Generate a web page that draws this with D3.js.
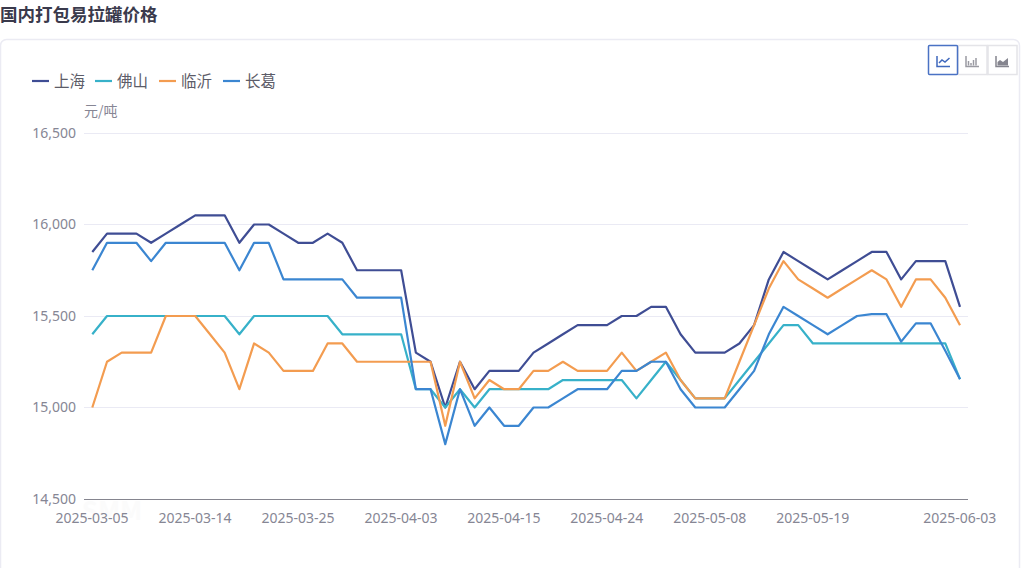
<!DOCTYPE html>
<html><head><meta charset="utf-8">
<script src="https://cdn.jsdelivr.net/npm/d3@7/dist/d3.min.js"></script>
<style>
html,body{margin:0;padding:0;background:#fff;width:1024px;height:568px;overflow:hidden}
text{font-family:"Noto Sans CJK SC","Noto Sans",sans-serif}
</style></head><body><svg id="c" width="1024" height="568"></svg>
<script>
const title = "国内打包易拉罐价格";
const unit = "元/吨";
const dates = ["2025-03-05","2025-03-06","2025-03-07","2025-03-10","2025-03-11","2025-03-12","2025-03-13","2025-03-14","2025-03-17","2025-03-18","2025-03-19","2025-03-20","2025-03-21","2025-03-24","2025-03-25","2025-03-26","2025-03-27","2025-03-28","2025-03-31","2025-04-01","2025-04-02","2025-04-03","2025-04-07","2025-04-08","2025-04-09","2025-04-10","2025-04-11","2025-04-14","2025-04-15","2025-04-16","2025-04-17","2025-04-18","2025-04-21","2025-04-22","2025-04-23","2025-04-24","2025-04-25","2025-04-28","2025-04-29","2025-04-30","2025-05-06","2025-05-07","2025-05-08","2025-05-09","2025-05-12","2025-05-13","2025-05-14","2025-05-15","2025-05-16","2025-05-19","2025-05-20","2025-05-21","2025-05-22","2025-05-23","2025-05-26","2025-05-27","2025-05-28","2025-05-29","2025-05-30","2025-06-03"];
const xTickLabels = ["2025-03-05","2025-03-14","2025-03-25","2025-04-03","2025-04-15","2025-04-24","2025-05-08","2025-05-19","2025-06-03"];
const yTicks = [14500,15000,15500,16000,16500];
const shanghai = [15850,15950,15950,15950,15900,15950,16000,16050,16050,16050,15900,16000,16000,15950,15900,15900,15950,15900,15750,15750,15750,15750,15300,15250,15000,15250,15100,15200,15200,15200,15300,15350,15400,15450,15450,15450,15500,15500,15550,15550,15400,15300,15300,15300,15350,15450,15700,15850,15800,15750,15700,15750,15800,15850,15850,15700,15800,15800,15800,15550];
const foshan = [15400,15500,15500,15500,15500,15500,15500,15500,15500,15500,15400,15500,15500,15500,15500,15500,15500,15400,15400,15400,15400,15400,15100,15100,15000,15100,15000,15100,15100,15100,15100,15100,15150,15150,15150,15150,15150,15050,15150,15250,15150,15050,15050,15050,15150,15250,15350,15450,15450,15350,15350,15350,15350,15350,15350,15350,15350,15350,15350,15155];
const linyi = [15000,15250,15300,15300,15300,15500,15500,15500,15400,15300,15100,15350,15300,15200,15200,15200,15350,15350,15250,15250,15250,15250,15250,15250,14900,15250,15050,15150,15100,15100,15200,15200,15250,15200,15200,15200,15300,15200,15250,15300,15150,15050,15050,15050,15250,15450,15650,15800,15700,15650,15600,15650,15700,15750,15700,15550,15700,15700,15600,15450];
const changge = [15750,15900,15900,15900,15800,15900,15900,15900,15900,15900,15750,15900,15900,15700,15700,15700,15700,15700,15600,15600,15600,15600,15100,15100,14800,15100,14900,15000,14900,14900,15000,15000,15050,15100,15100,15100,15200,15200,15250,15250,15100,15000,15000,15000,15100,15200,15400,15550,15500,15450,15400,15450,15500,15510,15510,15360,15460,15460,15310,15155];
const seriesNames = ["上海","佛山","临沂","长葛"];
const seriesValues = [shanghai,foshan,linyi,changge];
const seriesColors = ["#3f4d94","#37b1c9","#f39c50","#3b86d1"];

const svg = d3.select("#c");
const axisCol = "#868694";

// page chrome
svg.append("text").attr("x",0).attr("y",21).attr("font-size",17.5).attr("font-weight",700).attr("fill","#3a3a4c").text(title);
svg.append("rect").attr("x",0.5).attr("y",39.5).attr("width",1019).attr("height",560).attr("rx",6).attr("fill","#fff").attr("stroke","#ebebf3").attr("stroke-width",1.5);

// scales
const x = d3.scalePoint().domain(dates).range([92.3,960]);
const y = d3.scaleLinear().domain([14500,16500]).range([499,133]);

// watermark
svg.append("text").attr("x",112).attr("y",520).attr("text-anchor","middle").attr("font-size",26).attr("font-weight",700).attr("fill","#fbfbfb").text("SMM");

// grid and y labels
const gy = svg.append("g").attr("transform","translate(84,0)")
  .call(d3.axisLeft(y).tickValues(yTicks).tickSize(0).tickPadding(8).tickFormat(d3.format(",")));
gy.select(".domain").remove();
gy.selectAll("text").attr("font-size",14).attr("fill",axisCol).style("font-family","'Noto Sans',sans-serif");
svg.append("g").selectAll("line").data(yTicks.slice(1)).join("line")
  .attr("x1",84).attr("x2",968).attr("y1",d=>Math.floor(y(d))+0.5).attr("y2",d=>Math.floor(y(d))+0.5).attr("stroke","#eaeaf4");

// x axis
const gx = svg.append("g").attr("transform","translate(-0.7,499)")
  .call(d3.axisBottom(x).tickValues(xTickLabels).tickSize(0).tickPadding(14));
gx.select(".domain").remove();
gx.selectAll("text").attr("font-size",14).attr("fill",axisCol).style("font-family","'Noto Sans',sans-serif");
svg.append("line").attr("x1",84).attr("x2",968).attr("y1",499.5).attr("y2",499.5).attr("stroke","#85858f");
svg.append("text").attr("x",84).attr("y",116).attr("font-size",14).attr("fill",axisCol).text(unit);

// lines
const line = d3.line().x((d,i)=>x(dates[i])).y(d=>y(d));
svg.append("g").selectAll("path").data(seriesValues).join("path")
  .attr("d",line).attr("fill","none").attr("stroke",(d,i)=>seriesColors[i]).attr("stroke-width",2.2).attr("stroke-linejoin","round");

// legend
const legX = [32,95,159,223];
const lg = svg.append("g").selectAll("g").data(seriesNames).join("g").attr("transform",(d,i)=>`translate(${legX[i]},81)`);
lg.append("line").attr("x1",0).attr("x2",17).attr("stroke",(d,i)=>seriesColors[i]).attr("stroke-width",2.2);
lg.append("text").attr("x",22).attr("y",6).attr("font-size",15.5).attr("fill","#5c5c68").text(d=>d);

// toolbox
const tb = svg.append("g");
[958,988].forEach(bx=>{
  tb.append("rect").attr("x",bx).attr("y",45.5).attr("width",29).attr("height",29).attr("fill","#fff").attr("stroke","#e4e4e8").attr("stroke-width",1.5);
});
tb.append("rect").attr("x",928.5).attr("y",45.5).attr("width",29).attr("height",29).attr("rx",1).attr("fill","#fff").attr("stroke","#4a72c4").attr("stroke-width",1.5);
tb.append("path").attr("d","M937 56V66.5H950M939 63L942 60L945 62L949.5 58").attr("fill","none").attr("stroke","#3f68bd").attr("stroke-width",1.5);
tb.append("path").attr("d","M966 56V66.5H979").attr("fill","none").attr("stroke","#9a9aa2").attr("stroke-width",1.5);
tb.append("path").attr("d","M968.5 65.5V61M971 65.5V63M973.5 65.5V60M976 65.5V58").attr("fill","none").attr("stroke","#9a9aa2").attr("stroke-width",1.5);
tb.append("path").attr("d","M996 56V66.5H1009").attr("fill","none").attr("stroke","#85858f").attr("stroke-width",1.5);
tb.append("path").attr("d","M997.5 65.5V62L1000 60L1003 62L1008 58V65.5Z").attr("fill","#85858f");
</script></body></html>
